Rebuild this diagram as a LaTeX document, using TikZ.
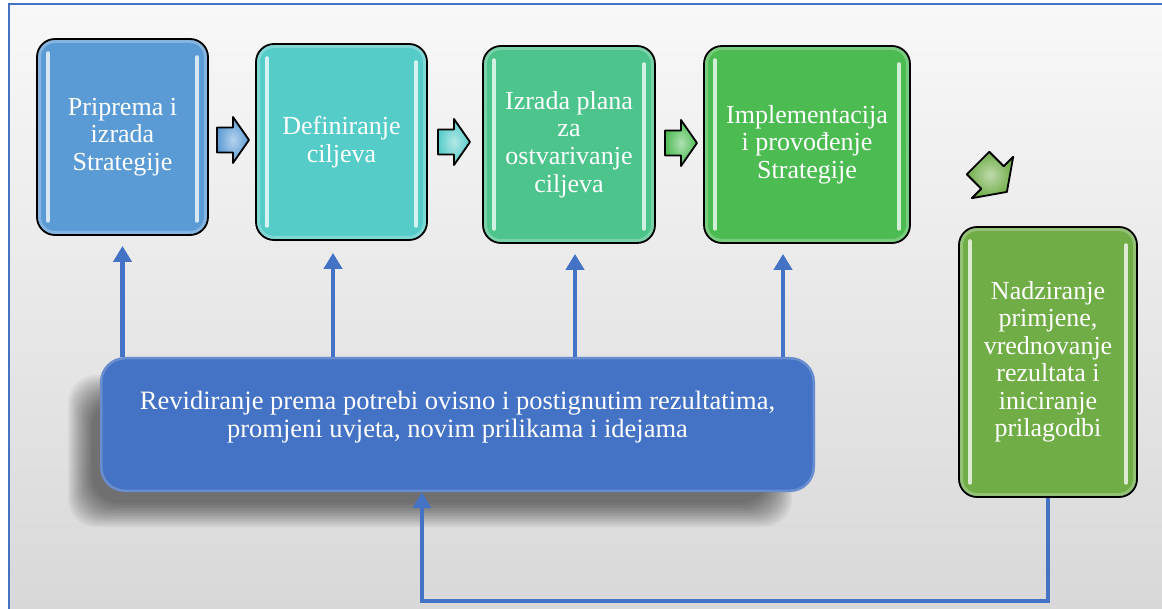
\documentclass[tikz,border=0pt]{standalone}
\usepackage{fontspec}
\setmainfont{Liberation Serif}
\usetikzlibrary{arrows.meta,calc}
\definecolor{prepblue}{HTML}{5B9BD5}
\definecolor{goalteal}{HTML}{56CCC9}
\definecolor{plangreen}{HTML}{4DC48C}
\definecolor{implgreen}{HTML}{4CBB52}
\definecolor{monitgreen}{HTML}{70AD47}
\definecolor{revblue}{HTML}{4472C4}
\definecolor{bgtop}{HTML}{F8F8F8}
\definecolor{bgbottom}{HTML}{D8D8D8}
\tikzset{
  glow/.style={line width=3.5pt, line cap=round, draw=white!75!#1},
  stage/.style={draw=black, line width=1.8pt, rounded corners=18pt, fill=#1,
    text=white, align=center, inner sep=0pt,
    font=\fontsize{26}{27.5}\selectfont,
    path picture={
      \draw[line width=8pt, white, opacity=.25, rounded corners=18pt]
        (path picture bounding box.south west) rectangle (path picture bounding box.north east);
      \draw[glow=#1] ([shift={(11,14)}]path picture bounding box.north west)
        -- ([shift={(11,-14)}]path picture bounding box.south west);
      \draw[glow=#1] ([shift={(-11,18)}]path picture bounding box.north east)
        -- ([shift={(-11,-14)}]path picture bounding box.south east);
    }},
  link/.style={draw=revblue, line width=4.5pt, -{Triangle[width=18pt,length=16pt]}},
  pics/chevron/.style={code={
    \draw[line width=1.8pt, line join=round, inner color=white!55!#1, outer color=#1]
      (-16,-12.5) -- (0,-12.5) -- (0,-23) -- (16,0) -- (0,23) -- (0,12.5) -- (-16,12.5) -- cycle;
  }}
}
\begin{document}
\begin{tikzpicture}[x=1pt, y=-1pt]
  \useasboundingbox (0,0) rectangle (1162,609);
  % background and frame
  \fill[top color=bgtop, bottom color=bgbottom] (9,4.5) rectangle (1162,609);
  \draw[revblue, line width=2pt] (9,609) -- (9,4.5) -- (1162,4.5);

  % stages
  \node[stage=prepblue, minimum width=171pt, minimum height=196pt] (prep) at (122.5,137) {Priprema i\\izrada\\Strategije};
  \node[stage=goalteal, minimum width=171pt, minimum height=196pt] (goals) at (341.5,142) {Definiranje\\ciljeva};
  \node[stage=plangreen, minimum width=172pt, minimum height=197pt] (plan) at (569,144.5) {Izrada plana\\za\\ostvarivanje\\ciljeva};
  \node[stage=implgreen, minimum width=206pt, minimum height=197pt] (impl) at (807,144.5) {Implementacija\\i provođenje\\Strategije};
  \node[stage=monitgreen, minimum width=178pt, minimum height=270pt] (monit) at (1048,362) {Nadziranje\\primjene,\\vrednovanje\\rezultata i\\iniciranje\\prilagodbi};

  % soft shadow under the revision bar
  \foreach \i in {0,...,15}
    \fill[black, opacity=.04, rounded corners=28pt]
      (68+1.6*\i, 527-1.6*\i) rectangle (792-1.6*\i, 375+1.6*\i);

  % revision bar
  \node[fill=revblue, rounded corners=25pt, minimum width=715pt, minimum height=135pt,
    text=white, align=center, font=\fontsize{26.5}{28}\selectfont,
    path picture={\draw[line width=5pt, white, opacity=.2, rounded corners=25pt]
      (path picture bounding box.south west) rectangle (path picture bounding box.north east);}]
    (revis) at (457.5,424.5) {Revidiranje prema potrebi ovisno i postignutim rezultatima,\\promjeni uvjeta, novim prilikama i idejama\\[-8pt]\mbox{}};

  % step arrows
  \pic at (233,140) {chevron=prepblue};
  \pic at (454,142) {chevron=goalteal};
  \pic at (681,143) {chevron=implgreen};
  \begin{scope}[shift={(992.5,177.5)}, x={(0.9pt,-0.9pt)}, y={(-0.9pt,-0.9pt)}]
    \pic {chevron=monitgreen};
  \end{scope}

  % feedback links
  \foreach \stg/\dx/\gap in {prep/0/10, goals/-8.5/12, plan/6/10, impl/-24/10} {
    \coordinate (\stg tip) at ($(\stg.south)+(\dx,\gap)$);
    \draw[link] (revis.north -| \stg tip) -- (\stg tip);
  }
  \draw[link] (monit.south) -- ++(0,103) -| ([xshift=-35.5pt]revis.south);
\end{tikzpicture}
\end{document}
